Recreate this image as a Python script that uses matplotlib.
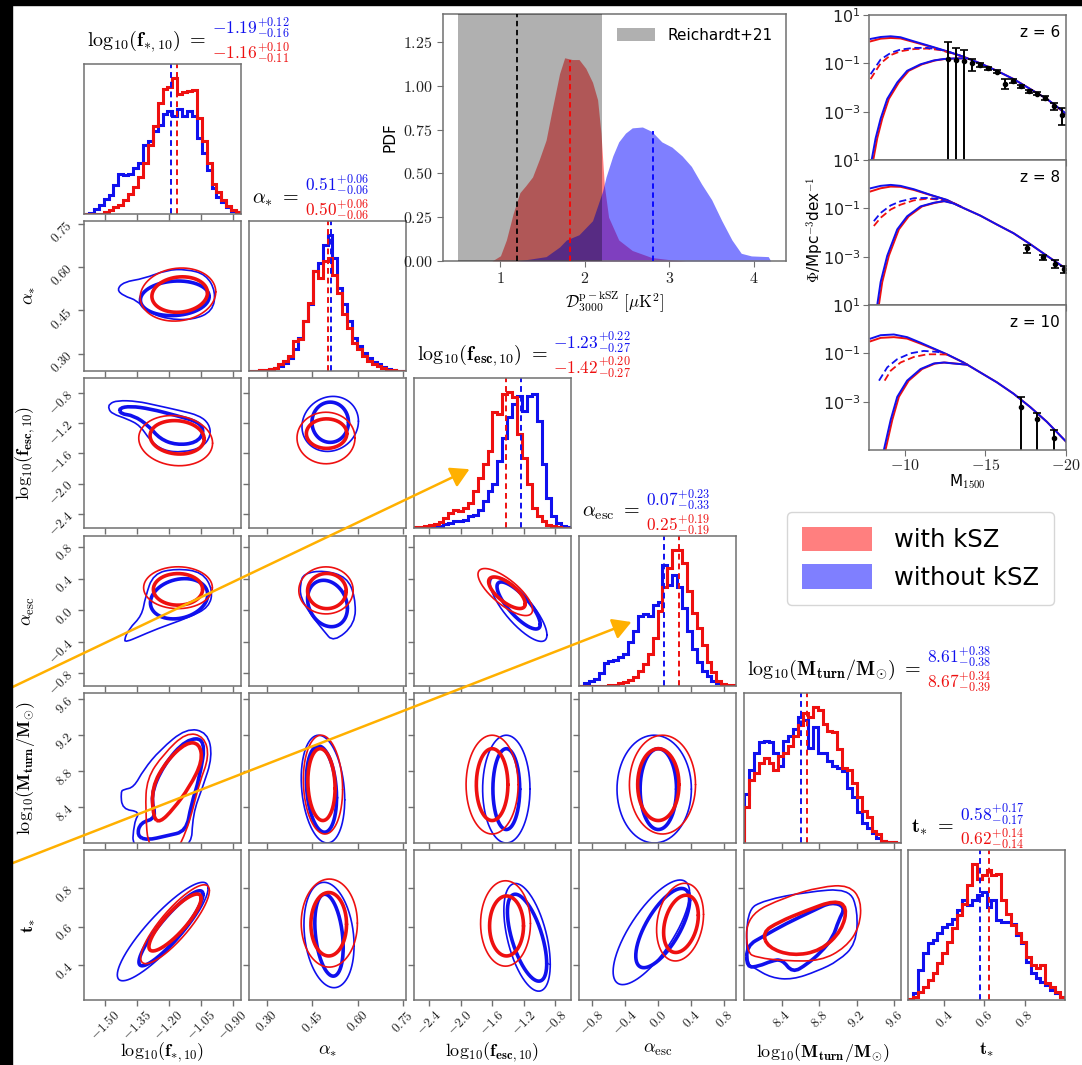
import numpy as np
import matplotlib
matplotlib.use('Agg')
import matplotlib.pyplot as plt
from matplotlib.path import Path
from matplotlib.patches import PathPatch, Patch, Rectangle, FancyArrowPatch
from matplotlib.ticker import FixedLocator, FuncFormatter, NullFormatter, NullLocator

plt.rcParams['mathtext.fontset'] = 'cm'
plt.rcParams['font.family'] = ['DejaVu Sans']
plt.rcParams['axes.unicode_minus'] = True

W, H = 1082, 1065
fig = plt.figure(figsize=(W / 100, H / 100), dpi=100)
fig.patch.set_facecolor('white')

BLUE = '#1010ee'
RED = '#ee1010'
GRAY = '#707070'

# ---------------- corner-plot data ----------------
axis_labels = [r'$\mathrm{log}_{\mathbf{10}}(\mathbf{f}_{\mathbf{*,10}})$',
               r'$\mathbf{\alpha}_{\mathbf{*}}$',
               r'$\mathrm{log}_{\mathbf{10}}(\mathbf{f}_{\mathbf{esc,10}})$',
               r'$\mathbf{\alpha}_{\mathrm{esc}}$',
               r'$\mathrm{log}_{\mathbf{10}}(\mathbf{M}_{\mathbf{turn}}/\mathbf{M}_{\odot})$',
               r'$\mathbf{t}_{\mathbf{*}}$']
ranges = [(-1.60, -0.86), (0.24, 0.76), (-2.59, -0.60), (-0.96, 0.94), (8.0, 9.67), (0.22, 1.0)]
ticks = [[-1.50, -1.35, -1.20, -1.05, -0.90], [0.30, 0.45, 0.60, 0.75],
         [-2.4, -2.0, -1.6, -1.2, -0.8], [-0.8, -0.4, 0.0, 0.4, 0.8],
         [8.4, 8.8, 9.2, 9.6], [0.4, 0.6, 0.8]]
tick_decimals = [2, 2, 1, 1, 1, 1]

# medians and errors (blue = without kSZ, red = with kSZ)
med_blue = [-1.19, 0.51, -1.23, 0.07, 8.61, 0.58]
err_blue = [(0.12, 0.16), (0.06, 0.06), (0.22, 0.27), (0.23, 0.33), (0.38, 0.38), (0.17, 0.17)]
med_red = [-1.16, 0.50, -1.42, 0.25, 8.67, 0.62]
err_red = [(0.10, 0.11), (0.06, 0.06), (0.20, 0.27), (0.19, 0.19), (0.34, 0.39), (0.14, 0.14)]

# 1D histogram heights (32 bins spanning the axis range)
hist_f_blue = [0, 3, 15, 28, 45, 55, 85, 118, 116, 118, 135, 150, 205, 215, 245, 265, 295, 305, 290, 310, 290, 305, 290, 225, 180, 130, 76, 50, 36, 20, 10, 5]
hist_f_red = [0, 0, 0, 0, 5, 12, 20, 28, 40, 60, 80, 110, 150, 205, 260, 330, 370, 375, 404, 355, 360, 365, 366, 285, 215, 150, 90, 65, 40, 25, 12, 6]
hist_as_blue = [0, 0, 2, 3, 5, 8, 15, 25, 40, 65, 100, 150, 200, 300, 325, 380, 410, 340, 250, 200, 150, 100, 75, 55, 40, 28, 20, 12, 6, 3, 1, 0]
hist_as_red = [0, 0, 2, 3, 6, 10, 20, 30, 45, 90, 95, 150, 205, 300, 280, 330, 340, 290, 235, 170, 130, 85, 65, 45, 30, 22, 14, 8, 4, 2, 1, 0]
hist_fesc_blue = [0, 0, 0, 0, 2, 5, 12, 15, 20, 20, 25, 35, 40, 55, 80, 110, 130, 200, 270, 330, 370, 395, 350, 395, 400, 320, 190, 90, 35, 15, 5, 2]
hist_fesc_red = [2, 4, 5, 8, 12, 18, 30, 45, 55, 50, 60, 75, 110, 150, 190, 230, 345, 340, 400, 407, 390, 280, 210, 130, 60, 35, 20, 10, 5, 2, 0, 0]
hist_aesc_blue = [1, 8, 14, 22, 38, 68, 72, 75, 85, 95, 130, 160, 205, 210, 205, 237, 245, 355, 295, 325, 290, 230, 160, 110, 70, 45, 30, 15, 8, 3, 1, 0]
hist_aesc_red = [0, 0, 0, 0, 0, 0, 2, 4, 8, 12, 18, 25, 45, 65, 95, 140, 220, 290, 345, 400, 400, 360, 280, 215, 170, 120, 70, 40, 15, 6, 4, 2]
hist_mt_blue = [145, 215, 265, 295, 300, 295, 265, 225, 300, 315, 335, 370, 360, 280, 340, 265, 265, 240, 225, 220, 210, 160, 135, 90, 60, 45, 30, 15, 5, 3, 2, 0]
hist_mt_red = [105, 185, 205, 235, 250, 235, 215, 255, 265, 285, 315, 345, 380, 370, 400, 390, 350, 330, 325, 275, 220, 215, 175, 135, 95, 75, 35, 25, 5, 3, 2, 0]
hist_ts_blue = [2, 20, 90, 140, 170, 180, 200, 220, 230, 245, 270, 300, 285, 300, 315, 325, 280, 300, 240, 235, 235, 230, 195, 170, 115, 80, 65, 55, 45, 30, 20, 10]
hist_ts_red = [2, 10, 25, 40, 60, 80, 110, 140, 175, 215, 255, 290, 345, 410, 365, 375, 390, 375, 380, 300, 260, 225, 200, 175, 130, 105, 95, 105, 50, 40, 25, 10]
hists_blue = [hist_f_blue, hist_as_blue, hist_fesc_blue, hist_aesc_blue, hist_mt_blue, hist_ts_blue]
hists_red = [hist_f_red, hist_as_red, hist_fesc_red, hist_aesc_red, hist_mt_red, hist_ts_red]

# 2D credible contours.  ('e', cx, cy, rx, ry, rho) = ellipse-like contour,
# ('p', xs, ys) = contour traced through the listed points.  'in' = thick inner, 'out' = thin outer
contours = {
    (1, 0): [
        ('blue', 'out', ('p', [-1.446, -1.412, -1.319, -1.211, -1.118, -1.025, -0.979, -0.994, -1.087, -1.211, -1.304, -1.35, -1.412],
                              [0.522, 0.549, 0.560, 0.590, 0.593, 0.575, 0.515, 0.447, 0.417, 0.420, 0.447, 0.485, 0.500])),
        ('blue', 'in', ('e', -1.172, 0.492, 0.162, 0.060, 0.1)),
        ('red', 'out', ('e', -1.157, 0.505, 0.178, 0.092, 0.1)),
        ('red', 'in', ('e', -1.149, 0.505, 0.131, 0.0615, 0.1)),
    ],
    (2, 0): [
        ('blue', 'out', ('p', [-1.481, -1.443, -1.350, -1.257, -1.149, -1.056, -1.010, -1.002, -1.041, -1.134, -1.226, -1.288, -1.335, -1.397, -1.466, -1.485],
                              [-0.942, -0.898, -0.907, -0.964, -1.031, -1.098, -1.209, -1.364, -1.520, -1.587, -1.564, -1.431, -1.231, -1.142, -1.076, -1.009])),
        ('blue', 'in', ('p', [-1.435, -1.381, -1.288, -1.165, -1.056, -1.033, -1.072, -1.165, -1.242, -1.296, -1.366, -1.427],
                             [-1.000, -0.973, -1.009, -1.098, -1.187, -1.320, -1.462, -1.489, -1.409, -1.231, -1.098, -1.076])),
        ('red', 'out', ('e', -1.168, -1.431, 0.174, 0.333, -0.1)),
        ('red', 'in', ('e', -1.161, -1.387, 0.1275, 0.222, -0.1)),
    ],
    (2, 1): [
        ('blue', 'out', ('e', 0.509, -1.209, 0.0935, 0.365, 0.1)),
        ('blue', 'in', ('e', 0.509, -1.187, 0.0605, 0.267, 0.0)),
        ('red', 'out', ('e', 0.495, -1.396, 0.096, 0.342, 0.0)),
        ('red', 'in', ('e', 0.497, -1.338, 0.067, 0.196, 0.0)),
    ],
    (3, 0): [
        ('blue', 'out', ('p', [-1.412, -1.389, -1.327, -1.311, -1.273, -1.165, -1.042, -0.992, -1.011, -1.103, -1.258, -1.350, -1.397],
                              [-0.387, -0.238, -0.068, 0.166, 0.464, 0.528, 0.485, 0.251, 0.038, -0.089, -0.238, -0.345, -0.396])),
        ('blue', 'in', ('e', -1.152, 0.145, 0.135, 0.255, 0.2)),
        ('red', 'out', ('e', -1.157, 0.285, 0.162, 0.265, 0.0)),
        ('red', 'in', ('e', -1.157, 0.264, 0.116, 0.200, 0.0)),
    ],
    (3, 1): [
        ('blue', 'out', ('p', [0.410, 0.421, 0.487, 0.564, 0.592, 0.592, 0.520, 0.487, 0.443, 0.410],
                              [0.336, 0.464, 0.506, 0.421, 0.166, -0.174, -0.408, -0.259, -0.047, 0.166])),
        ('blue', 'in', ('e', 0.500, 0.085, 0.066, 0.294, -0.2)),
        ('red', 'out', ('e', 0.495, 0.251, 0.090, 0.298, 0.0)),
        ('red', 'in', ('e', 0.498, 0.243, 0.064, 0.223, 0.0)),
    ],
    (3, 2): [
        ('blue', 'out', ('e', -1.264, 0.013, 0.359, 0.408, -0.8)),
        ('blue', 'in', ('e', -1.264, 0.060, 0.274, 0.298, -0.8)),
        ('red', 'out', ('e', -1.433, 0.230, 0.346, 0.298, -0.75)),
        ('red', 'in', ('e', -1.412, 0.221, 0.232, 0.200, -0.7)),
    ],
    (4, 0): [
        ('blue', 'out', ('p', [-1.412, -1.427, -1.420, -1.335, -1.365, -1.373, -1.095, -1.087, -1.041, -0.994, -1.018, -1.118, -1.242, -1.319, -1.365],
                              [8.596, 8.571, 8.375, 8.350, 8.228, 7.900, 7.900, 8.326, 8.620, 8.963, 9.233, 9.280, 9.036, 8.816, 8.620])),
        ('blue', 'in', ('p', [-1.350, -1.335, -1.257, -1.288, -1.226, -1.118, -1.025, -1.056, -1.095, -1.118, -1.211, -1.304],
                             [8.080, 8.228, 8.277, 8.522, 8.865, 9.159, 9.159, 8.718, 8.424, 8.130, 8.080, 8.030])),
        ('red', 'out', ('p', [-1.296, -1.311, -1.304, -1.226, -1.118, -1.033, -1.010, -1.056, -1.087, -1.118, -1.165],
                             [7.900, 8.375, 8.718, 8.988, 9.233, 9.184, 8.963, 8.669, 8.375, 8.130, 7.900])),
        ('red', 'in', ('p', [-1.273, -1.281, -1.211, -1.118, -1.056, -1.041, -1.103, -1.180, -1.242],
                            [8.277, 8.620, 8.914, 9.120, 9.110, 8.914, 8.620, 8.375, 8.228])),
    ],
    (4, 1): [
        ('blue', 'out', ('e', 0.485, 8.60, 0.072, 0.60, -0.2)),
        ('blue', 'in', ('e', 0.480, 8.60, 0.050, 0.48, -0.2)),
        ('red', 'out', ('e', 0.485, 8.65, 0.065, 0.55, -0.1)),
        ('red', 'in', ('e', 0.480, 8.65, 0.045, 0.40, -0.1)),
    ],
    (4, 2): [
        ('blue', 'out', ('e', -1.42, 8.60, 0.30, 0.60, 0.0)),
        ('blue', 'in', ('e', -1.42, 8.60, 0.17, 0.45, 0.0)),
        ('red', 'out', ('e', -1.60, 8.65, 0.33, 0.55, 0.0)),
        ('red', 'in', ('e', -1.60, 8.65, 0.20, 0.40, 0.0)),
    ],
    (4, 3): [
        ('blue', 'out', ('e', -0.05, 8.60, 0.45, 0.60, 0.0)),
        ('blue', 'in', ('e', 0.00, 8.60, 0.22, 0.45, 0.0)),
        ('red', 'out', ('e', 0.05, 8.65, 0.40, 0.55, 0.0)),
        ('red', 'in', ('e', 0.00, 8.65, 0.25, 0.40, 0.0)),
    ],
    (5, 0): [
        ('blue', 'out', ('e', -1.229, 0.576, 0.214, 0.256, 0.88)),
        ('blue', 'in', ('e', -1.190, 0.593, 0.151, 0.195, 0.90)),
        ('red', 'out', ('e', -1.171, 0.614, 0.162, 0.205, 0.85)),
        ('red', 'in', ('e', -1.171, 0.623, 0.123, 0.148, 0.85)),
    ],
    (5, 1): [
        ('blue', 'out', ('e', 0.505, 0.558, 0.083, 0.274, -0.2)),
        ('blue', 'in', ('e', 0.505, 0.557, 0.047, 0.213, -0.3)),
        ('red', 'out', ('e', 0.506, 0.620, 0.093, 0.229, 0.0)),
        ('red', 'in', ('e', 0.504, 0.614, 0.059, 0.165, 0.0)),
    ],
    (5, 2): [
        ('blue', 'out', ('e', -1.157, 0.546, 0.294, 0.280, -0.5)),
        ('blue', 'in', ('e', -1.157, 0.544, 0.249, 0.226, -0.6)),
        ('red', 'out', ('e', -1.430, 0.618, 0.316, 0.222, 0.0)),
        ('red', 'in', ('e', -1.417, 0.605, 0.215, 0.156, 0.0)),
    ],
    (5, 3): [
        ('blue', 'out', ('e', -0.084, 0.572, 0.463, 0.272, 0.75)),
        ('blue', 'in', ('e', 0.053, 0.594, 0.326, 0.206, 0.70)),
        ('red', 'out', ('e', 0.263, 0.625, 0.284, 0.202, 0.2)),
        ('red', 'in', ('e', 0.274, 0.616, 0.210, 0.149, 0.3)),
    ],
    (5, 4): [
        ('blue', 'out', ('p', [8.028, 8.216, 8.667, 9.117, 9.211, 9.192, 9.005, 8.779, 8.516, 8.291, 8.103, 8.028],
                              [0.686, 0.739, 0.782, 0.800, 0.686, 0.511, 0.423, 0.370, 0.326, 0.335, 0.388, 0.414])),
        ('blue', 'in', ('p', [8.028, 8.216, 8.441, 8.742, 8.930, 9.080, 9.005, 8.948, 8.817, 8.667, 8.516, 8.404, 8.291, 8.160, 8.028],
                             [0.502, 0.554, 0.616, 0.686, 0.730, 0.704, 0.633, 0.546, 0.467, 0.405, 0.361, 0.432, 0.423, 0.396, 0.388])),
        ('red', 'out', ('p', [8.028, 8.441, 8.817, 9.117, 9.249, 9.230, 9.080, 8.817, 8.441, 8.141, 8.028],
                             [0.660, 0.756, 0.809, 0.818, 0.739, 0.598, 0.493, 0.423, 0.423, 0.440, 0.467])),
        ('red', 'in', ('p', [8.197, 8.366, 8.667, 8.967, 9.099, 9.042, 8.817, 8.516, 8.254],
                            [0.572, 0.625, 0.686, 0.739, 0.704, 0.581, 0.476, 0.449, 0.493])),
    ],
}

# ---------------- kSZ PDF data ----------------
pdf_x_red = [0.90, 1.00, 1.07, 1.15, 1.23, 1.30, 1.38, 1.46, 1.54, 1.61, 1.70, 1.76, 1.85, 1.93, 2.01, 2.09, 2.15, 2.19, 2.23, 2.28, 2.40, 2.56, 2.79, 3.03, 3.19]
pdf_y_red = [0.00, 0.03, 0.12, 0.27, 0.39, 0.43, 0.48, 0.58, 0.69, 0.86, 1.07, 1.16, 1.15, 1.15, 1.10, 1.02, 0.92, 0.73, 0.43, 0.25, 0.12, 0.06, 0.02, 0.006, 0.0]
pdf_x_blue = [1.20, 1.54, 1.70, 1.78, 1.93, 2.09, 2.21, 2.25, 2.33, 2.40, 2.48, 2.56, 2.68, 2.79, 2.91, 3.03, 3.15, 3.26, 3.38, 3.50, 3.62, 3.74, 3.85, 3.97, 4.17, 4.20]
pdf_y_blue = [0.00, 0.025, 0.08, 0.12, 0.15, 0.23, 0.40, 0.48, 0.60, 0.68, 0.73, 0.76, 0.765, 0.74, 0.68, 0.65, 0.60, 0.54, 0.44, 0.35, 0.23, 0.12, 0.044, 0.029, 0.025, 0.0]
reichardt_band = (0.5, 2.2)
reichardt_center = 1.2
pdf_median_red, pdf_median_red_h = 1.82, 1.15
pdf_median_blue, pdf_median_blue_h = 2.80, 0.74

# ---------------- UV luminosity function data (log10 Phi) ----------------
M_up6 = [-7.90, -8.52, -9.14, -9.75, -10.58, -11.60, -12.63, -13.66, -14.69, -15.72, -16.75, -17.78, -18.81, -20.0]
L_up6_b = [0.01, 0.09, 0.12, 0.08, -0.09, -0.29, -0.50, -0.73, -1.00, -1.31, -1.65, -2.06, -2.47, -3.08]
L_up6_r = [-0.09, 0.02, 0.05, 0.03, -0.12, -0.31, -0.51, -0.73, -1.00, -1.31, -1.65, -2.06, -2.47, -3.10]
M_da6 = [-7.90, -8.52, -9.14, -9.75, -10.58, -11.40, -12.20, -13.00, -13.66]
L_da6_b = [-1.45, -0.84, -0.57, -0.43, -0.36, -0.36, -0.43, -0.58, -0.73]
L_da6_r = [-1.65, -1.00, -0.66, -0.50, -0.41, -0.39, -0.45, -0.60, -0.73]
M_lo6_b = [-7.95, -8.21, -8.52, -8.93, -9.55, -10.16, -10.99, -11.81, -12.43, -13.04, -13.87]
M_lo6_r = [-8.05, -8.31, -8.62, -9.03, -9.65, -10.26, -11.09, -11.90, -12.50, -13.10, -13.87]
L_lo6 = [-5.05, -4.10, -3.29, -2.47, -1.79, -1.31, -1.04, -0.88, -0.82, -0.80, -0.79]

M_up8 = [-7.90, -8.52, -9.14, -9.75, -10.58, -11.60, -12.63, -13.66, -14.69, -15.72, -16.75, -17.78, -18.81, -20.0]
L_up8_b = [-0.17, -0.07, -0.03, -0.07, -0.21, -0.44, -0.65, -0.99, -1.30, -1.67, -2.03, -2.48, -2.96, -3.50]
L_up8_r = [-0.30, -0.17, -0.10, -0.11, -0.24, -0.45, -0.66, -0.99, -1.30, -1.67, -2.03, -2.48, -2.96, -3.50]
M_da8 = [-8.10, -8.52, -9.14, -9.75, -10.58, -11.40, -12.20, -12.80]
L_da8_b = [-1.53, -1.19, -0.88, -0.71, -0.58, -0.57, -0.62, -0.73]
L_da8_r = [-1.73, -1.39, -1.05, -0.85, -0.67, -0.60, -0.64, -0.74]
M_lo8_b = [-8.31, -8.52, -8.93, -9.55, -10.16, -10.99, -11.81, -12.43, -13.04, -13.45]
M_lo8_r = [-8.41, -8.62, -9.03, -9.65, -10.26, -11.09, -11.90, -12.50, -13.10, -13.45]
L_lo8 = [-5.0, -4.05, -2.96, -1.87, -1.33, -0.92, -0.77, -0.70, -0.80, -0.92]

M_up10 = [-7.90, -8.52, -9.34, -10.16, -10.99, -11.81, -12.63, -13.66, -14.69, -15.72, -16.75, -17.78, -18.81, -20.0]
L_up10_b = [-0.39, -0.25, -0.22, -0.33, -0.56, -0.80, -1.04, -1.38, -1.79, -2.20, -2.67, -3.22, -3.83, -4.65]
L_up10_r = [-0.50, -0.36, -0.33, -0.39, -0.60, -0.82, -1.05, -1.38, -1.79, -2.20, -2.67, -3.22, -3.83, -4.65]
M_da10_b = [-8.42, -8.93, -9.55, -10.37, -11.19, -12.01, -12.43]
L_da10_b = [-2.13, -1.58, -1.24, -1.00, -0.90, -0.94, -0.99]
M_da10_r = [-8.77, -9.14, -9.75, -10.58, -11.40, -12.01, -12.63]
L_da10_r = [-2.13, -1.72, -1.38, -1.15, -1.04, -1.04, -1.05]
M_lo10_b = [-8.72, -9.14, -9.55, -10.16, -10.99, -11.81, -12.43, -13.04, -13.87]
M_lo10_r = [-8.82, -9.24, -9.65, -10.26, -11.09, -11.90, -12.50, -13.10, -13.87]
L_lo10 = [-5.0, -3.76, -2.80, -2.13, -1.65, -1.42, -1.38, -1.42, -1.47]

obs6_M = [-12.7, -13.2, -13.7, -14.2, -14.7, -15.2, -15.7, -16.2, -16.7, -17.2, -17.7, -18.2, -18.7, -19.25, -19.75]
obs6_L = [-0.84, -0.87, -0.92, -0.97, -1.07, -1.20, -1.34, -1.86, -1.73, -1.95, -2.15, -2.25, -2.43, -2.77, -3.15]
obs6_up = [0.71, 0.51, 0.49, 0.17, 0.08, 0.06, 0.06, 0.21, 0.07, 0.06, 0.06, 0.06, 0.08, 0.12, 0.29]
obs6_dn = [9, 9, 9, 0.34, 0.10, 0.07, 0.07, 0.20, 0.08, 0.07, 0.07, 0.07, 0.09, 0.15, 0.40]
obs8_M = [-17.6, -18.6, -19.3, -19.9]
obs8_L = [-2.65, -3.03, -3.30, -3.52]
obs8_up = [0.15, 0.10, 0.15, 0.12]
obs8_dn = [0.18, 0.12, 0.18, 0.14]
obs10_M = [-17.2, -18.2, -19.25]
obs10_L = [-3.22, -3.73, -4.50]
obs10_up = [0.41, 0.27, 0.33]
obs10_dn = [9, 9, 9]

legend_labels = ['with kSZ', 'without kSZ']


# ---------------- helpers ----------------
def px_axes(x0, y0, w, h):
    return fig.add_axes([x0 / W, 1 - (y0 + h) / H, w / W, h / H])


def fx(x):
    return x / W


def fy(y):
    return 1 - y / H


def math_fmt(dec):
    return FuncFormatter(lambda v, p: r'$%.*f$' % (dec, v))


def style_spines(ax):
    for s in ax.spines.values():
        s.set_color(GRAY)
        s.set_linewidth(1.1)


def draw_ellipse(ax, cx, cy, rx, ry, rho, color, lw):
    t = np.linspace(0, 2 * np.pi, 240)
    x = cx + rx * np.cos(t)
    y = cy + ry * (rho * np.cos(t) + np.sqrt(1 - rho ** 2) * np.sin(t))
    ax.plot(x, y, color=color, lw=lw, solid_capstyle='round')


def draw_closed(ax, xs, ys, color, lw):
    P = np.column_stack([xs, ys])
    Mid = (P + np.roll(P, -1, axis=0)) / 2
    verts = [Mid[-1]]
    codes = [Path.MOVETO]
    for i in range(len(P)):
        verts += [P[i], Mid[i]]
        codes += [Path.CURVE3, Path.CURVE3]
    ax.add_patch(PathPatch(Path(verts, codes), fill=False, edgecolor=color, lw=lw))


COLS = {'blue': BLUE, 'red': RED}
LWS = {'in': 2.6, 'out': 1.2}

COL_X = [84, 249, 414, 579, 744, 908]
ROW_Y = [64, 221, 378, 536, 693, 850]
PW, PH = 157, 150

for i in range(6):
    for j in range(i + 1):
        ax = px_axes(COL_X[j], ROW_Y[i], PW, PH)
        style_spines(ax)
        ax.set_xlim(*ranges[j])
        ax.xaxis.set_major_locator(FixedLocator(ticks[j]))
        ax.xaxis.set_minor_locator(NullLocator())
        ax.tick_params(direction='out', length=4, width=1, color=GRAY, labelsize=9.5, pad=2,
                       labelcolor='#222222')
        if i == j:
            edges = np.linspace(ranges[j][0], ranges[j][1], len(hists_blue[j]) + 1)
            hb = np.array(hists_blue[j], float)
            hr = np.array(hists_red[j], float)
            ax.stairs(hb, edges, color=BLUE, lw=2.2)
            ax.stairs(hr, edges, color=RED, lw=2.2)
            top = 1.1 * max(hb.max(), hr.max())
            ax.set_ylim(0, top)
            ax.vlines(med_blue[j], 0, top, colors=BLUE, linestyles=(0, (3, 2)), lw=1.4)
            ax.vlines(med_red[j], 0, top, colors=RED, linestyles=(0, (3, 2)), lw=1.4)
            ax.set_yticks([])
        else:
            ax.set_ylim(*ranges[i])
            ax.yaxis.set_major_locator(FixedLocator(ticks[i]))
            ax.yaxis.set_minor_locator(NullLocator())
            for cname, kind, shape in contours.get((i, j), []):
                if shape[0] == 'e':
                    draw_ellipse(ax, *shape[1:], COLS[cname], LWS[kind])
                else:
                    draw_closed(ax, shape[1], shape[2], COLS[cname], LWS[kind])
            if j == 0:
                ax.yaxis.set_major_formatter(math_fmt(tick_decimals[i]))
                for lab in ax.get_yticklabels():
                    lab.set_rotation(45)
                ax.set_ylabel(axis_labels[i], fontsize=13)
                ax.yaxis.set_label_coords(-0.30, 0.5)
            else:
                ax.yaxis.set_major_formatter(NullFormatter())
        if i == 5:
            ax.xaxis.set_major_formatter(math_fmt(tick_decimals[j]))
            for lab in ax.get_xticklabels():
                lab.set_rotation(45)
            ax.set_xlabel(axis_labels[j], fontsize=13)
            ax.xaxis.set_label_coords(0.5, -0.27)
        else:
            ax.xaxis.set_major_formatter(NullFormatter())

        if i == j:
            lab = fig.text(fx(COL_X[j] + 3), fy(ROW_Y[j] - 23), axis_labels[j] + r'$\ =$',
                           ha='left', va='center', fontsize=14.5)
            vb = r'$\mathbf{%.2f}^{\mathbf{+%.2f}}_{\mathbf{-%.2f}}$' % (med_blue[j], err_blue[j][0], err_blue[j][1])
            vr = r'$\mathbf{%.2f}^{\mathbf{+%.2f}}_{\mathbf{-%.2f}}$' % (med_red[j], err_red[j][0], err_red[j][1])
            ax.annotate(vb, xy=(1, 0.5), xycoords=lab, xytext=(4, 9), textcoords='offset points',
                        ha='left', va='center', color=BLUE, fontsize=12.5, annotation_clip=False)
            ax.annotate(vr, xy=(1, 0.5), xycoords=lab, xytext=(4, -9), textcoords='offset points',
                        ha='left', va='center', color=RED, fontsize=12.5, annotation_clip=False)

# ---------------- kSZ PDF panel ----------------
axp = px_axes(443, 14, 343, 247)
style_spines(axp)
axp.set_xlim(0.32, 4.38)
axp.set_ylim(0, 1.41)
axp.fill_between(pdf_x_red, pdf_y_red, color='red', alpha=0.5, lw=0)
axp.fill_between(pdf_x_blue, pdf_y_blue, color='blue', alpha=0.5, lw=0)
axp.axvspan(*reichardt_band, color='black', alpha=0.31, lw=0, label='Reichardt+21', zorder=3)
axp.vlines(reichardt_center, 0, 1.41, colors='black', linestyles=(0, (3, 2)), lw=1.3, zorder=4)
axp.vlines(pdf_median_red, 0, pdf_median_red_h, colors='red', linestyles=(0, (3, 2)), lw=1.3, zorder=4)
axp.vlines(pdf_median_blue, 0, pdf_median_blue_h, colors='blue', linestyles=(0, (3, 2)), lw=1.3, zorder=4)
axp.xaxis.set_major_locator(FixedLocator([1, 2, 3, 4]))
axp.yaxis.set_major_locator(FixedLocator([0, 0.25, 0.5, 0.75, 1.0, 1.25]))
axp.xaxis.set_major_formatter(math_fmt(0))
axp.yaxis.set_major_formatter(math_fmt(2))
axp.tick_params(direction='out', length=4, color=GRAY, labelsize=11.5, labelcolor='#222222')
axp.set_ylabel('PDF', fontsize=11)
axp.set_xlabel(r'$\mathcal{D}_{3000}^{\mathrm{p-kSZ}}\ [\mu\mathrm{K}^2]$', fontsize=12, labelpad=2)
axp.legend(loc='upper right', frameon=False, fontsize=11, handlelength=2.5, handleheight=0.9)

# ---------------- UV LF panels ----------------
lf_sets = [
    ('z = 6', M_up6, L_up6_b, L_up6_r, M_da6, L_da6_b, M_da6, L_da6_r, M_lo6_b, M_lo6_r, L_lo6, obs6_M, obs6_L, obs6_up, obs6_dn),
    ('z = 8', M_up8, L_up8_b, L_up8_r, M_da8, L_da8_b, M_da8, L_da8_r, M_lo8_b, M_lo8_r, L_lo8, obs8_M, obs8_L, obs8_up, obs8_dn),
    ('z = 10', M_up10, L_up10_b, L_up10_r, M_da10_b, L_da10_b, M_da10_r, L_da10_r, M_lo10_b, M_lo10_r, L_lo10, obs10_M, obs10_L, obs10_up, obs10_dn),
]
lf_top = [15, 160, 305]
lf_h = 145
for k, (zl, Mu, Lub, Lur, Mdb, Ldb, Mdr, Ldr, Mlb, Mlr, Ll, oM, oL, oU, oD) in enumerate(lf_sets):
    a = px_axes(869, lf_top[k], 197, lf_h)
    style_spines(a)
    a.set_yscale('log')
    a.set_xlim(-7.8, -20)
    a.set_ylim(1e-5, 1e1)
    a.plot(Mu, 10 ** np.array(Lur), color=RED, lw=1.4)
    a.plot(Mu, 10 ** np.array(Lub), color=BLUE, lw=1.4)
    a.plot(Mdr, 10 ** np.array(Ldr), color=RED, lw=1.3, ls=(0, (4, 2)))
    a.plot(Mdb, 10 ** np.array(Ldb), color=BLUE, lw=1.3, ls=(0, (4, 2)))
    a.plot(Mlr, 10 ** np.array(Ll), color=RED, lw=1.4)
    a.plot(Mlb, 10 ** np.array(Ll), color=BLUE, lw=1.4)
    oL = np.array(oL)
    phi = 10 ** oL
    lo = phi - 10 ** (oL - np.array(oD))
    hi = 10 ** (oL + np.array(oU)) - phi
    a.errorbar(oM, phi, yerr=[lo, hi], fmt='o', color='black', ms=3, elinewidth=1.4, capsize=3, capthick=1.2)
    a.yaxis.set_major_locator(FixedLocator([1e1, 1e-1, 1e-3]))
    a.yaxis.set_minor_locator(NullLocator())
    a.xaxis.set_major_locator(FixedLocator([-10, -15, -20]))
    a.xaxis.set_minor_locator(NullLocator())
    a.tick_params(direction='out', length=4, color=GRAY, labelsize=11.5, labelcolor='#222222', pad=2)
    if k < 2:
        a.xaxis.set_major_formatter(NullFormatter())
    else:
        a.xaxis.set_major_formatter(math_fmt(0))
    a.text(0.97, 0.93, zl, transform=a.transAxes, ha='right', va='top', fontsize=11)

fig.text(fx(815), fy(230), r'$\Phi$/Mpc$^{-3}$dex$^{-1}$', rotation=90, ha='center', va='center', fontsize=11)
fig.text(fx(967), fy(482), r'M$_{1500}$', ha='center', va='center', fontsize=11)

# ---------------- legend ----------------
handles = [Patch(facecolor='red', alpha=0.5, edgecolor='none'), Patch(facecolor='blue', alpha=0.5, edgecolor='none')]
fig.legend(handles, legend_labels, loc='upper left', bbox_to_anchor=(fx(787), fy(512)), fontsize=17.5,
           handlelength=2.9, handleheight=1.2, frameon=True, edgecolor='#cccccc', fancybox=True,
           borderpad=0.6, labelspacing=0.5, handletextpad=0.9, borderaxespad=0)

# ---------------- arrows and frame ----------------
for (x0, y0), (x1, y1) in [((0, 693), (472, 468)), ((0, 868), (634, 621))]:
    fig.add_artist(FancyArrowPatch((fx(x0), fy(y0)), (fx(x1), fy(y1)), transform=fig.transFigure,
                                   arrowstyle='-|>,head_length=0.7,head_width=0.4', mutation_scale=16,
                                   color='#ffb000', lw=1.8, zorder=20))
fig.add_artist(Rectangle((0, 0), fx(12), 1, transform=fig.transFigure, color='black', zorder=30))
fig.add_artist(Rectangle((0, fy(5)), 1, 5 / H, transform=fig.transFigure, color='black', zorder=30))

fig.savefig('out.png', dpi=100)
